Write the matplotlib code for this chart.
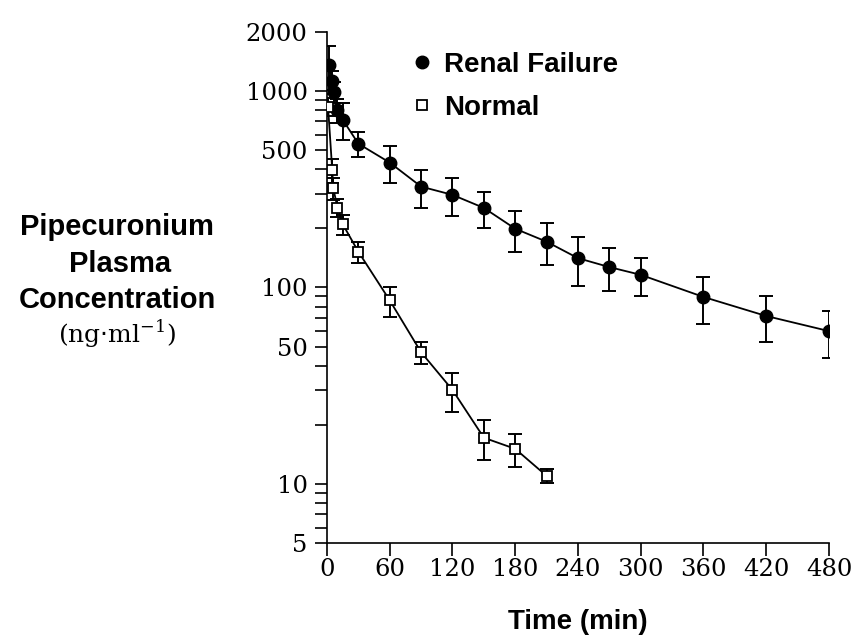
import numpy as np
import matplotlib
matplotlib.use("Agg")
import matplotlib.pyplot as plt
from matplotlib.ticker import FixedLocator, NullFormatter
from matplotlib.lines import Line2D

# renal failure group (time in min, conc in ng/ml, SD)
renal_t = [2, 5, 7, 10, 15, 30, 60, 90, 120, 150, 180, 210, 240, 270, 300, 360, 420, 480]
renal_c = [1357, 1120, 988, 800, 714, 539, 432, 326, 296, 254, 199, 171, 141, 127, 116, 89.5, 71.6, 60]
renal_sd = [345, 150, 120, 110, 150, 78, 90, 71, 65, 53, 47, 41, 39, 31, 26, 24, 19, 16]

# normal group
normal_t = [1, 5, 6, 10, 15, 30, 60, 90, 120, 150, 180, 210]
normal_c = [832, 396, 320, 255, 210, 152, 86, 46.8, 30.1, 17.2, 15.1, 11.0]
normal_sd = [90, 56, 40, 27, 24, 18, 15, 6, 6.8, 4, 2.9, 0.9]

xticks = [0, 60, 120, 180, 240, 300, 360, 420, 480]
yticks = [5, 10, 50, 100, 500, 1000, 2000]
yticklabels = ["5", "10", "50", "100", "500", "1000", "2000"]

serif = ["DejaVu Serif"]
sans = ["Liberation Sans", "DejaVu Sans"]

fig = plt.figure(figsize=(8.54, 6.42), dpi=100)
ax = fig.add_axes([0.3829, 0.1539, 0.5878, 0.7966])

ax.set_yscale("log")
ax.set_xlim(0, 480)
ax.set_ylim(5, 2000)

# lines through the points
ax.plot(renal_t, renal_c, color="black", lw=1.3, zorder=2)
ax.plot(normal_t, normal_c, color="black", lw=1.3, zorder=2)

ax.errorbar(renal_t, renal_c, yerr=renal_sd, fmt="none", ecolor="black",
            elinewidth=1.4, capsize=5, capthick=1.4, zorder=3)
ax.errorbar(normal_t, normal_c, yerr=normal_sd, fmt="none", ecolor="black",
            elinewidth=1.4, capsize=5, capthick=1.4, zorder=3)

ax.plot(renal_t, renal_c, "o", color="black", ms=9, ls="none", zorder=4)
ax.plot(normal_t, normal_c, "s", mfc="white", mec="black", mew=1.3, ms=7.5,
        ls="none", zorder=4)

for s in ["top", "right"]:
    ax.spines[s].set_visible(False)
for s in ["left", "bottom"]:
    ax.spines[s].set_linewidth(1.2)

ax.set_xticks(xticks)
ax.set_xticklabels([str(v) for v in xticks], fontfamily=serif, fontsize=17.5)
ax.yaxis.set_major_locator(FixedLocator(yticks))
ax.set_yticklabels(yticklabels, fontfamily=serif, fontsize=17.5)
minor = [v * 10 ** e for e in range(0, 4) for v in range(1, 10)]
minor = [m for m in minor if 5 <= m <= 2000 and m not in yticks]
ax.yaxis.set_minor_locator(FixedLocator(minor))
ax.yaxis.set_minor_formatter(NullFormatter())

ax.tick_params(axis="both", which="both", direction="out", length=9, width=1.2,
               color="black")
ax.tick_params(axis="y", which="major", pad=5)
ax.tick_params(axis="x", which="major", pad=2)

ax.set_xlabel("Time (min)", fontfamily=sans, fontweight="bold", fontsize=20,
              labelpad=20)

# y label as a block of text left of the axis
fig.text(117 / 854, 1 - 227 / 642, "Pipecuronium", ha="center", va="center",
         fontfamily=sans, fontweight="bold", fontsize=21)
fig.text(120 / 854, 1 - 264 / 642, "Plasma", ha="center", va="center",
         fontfamily=sans, fontweight="bold", fontsize=21)
fig.text(117 / 854, 1 - 300 / 642, "Concentration", ha="center", va="center",
         fontfamily=sans, fontweight="bold", fontsize=21)
fig.text(117 / 854, 1 - 335 / 642, r"(ng$\cdot$ml$^{\mathregular{-1}}$)",
         ha="center", va="center", fontfamily=serif, fontsize=18)

handles = [
    Line2D([], [], marker="o", color="black", ls="none", ms=9),
    Line2D([], [], marker="s", mfc="white", mec="black", mew=1.3, ls="none", ms=7.5),
]
ax.legend(handles, ["Renal Failure", "Normal"], loc="upper left",
          bbox_to_anchor=(397 / 854, 1 - 38 / 642), bbox_transform=fig.transFigure,
          frameon=False, handlelength=0.8, handletextpad=0.4, labelspacing=0.6,
          borderpad=0, prop={"family": sans, "weight": "bold", "size": 20})

fig.savefig("out.png", dpi=100)
